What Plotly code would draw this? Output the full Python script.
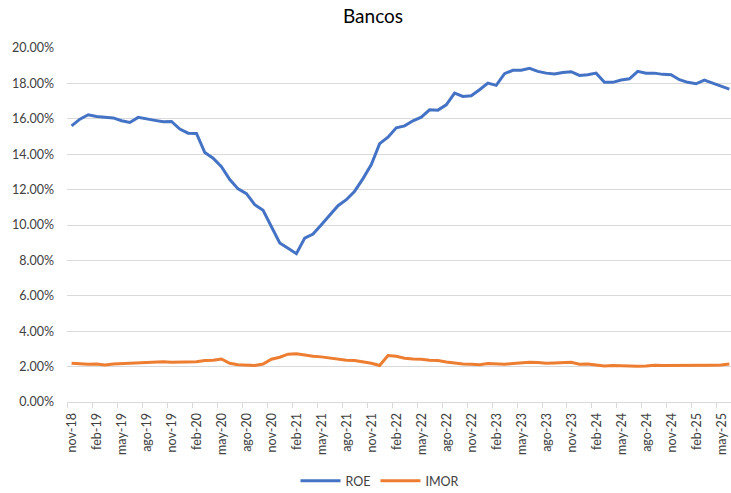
import plotly.graph_objects as go

month_names = ["ene", "feb", "mar", "abr", "may", "jun", "jul", "ago", "sep", "oct", "nov", "dic"]
# Categories: nov-18 .. jun-25 (monthly)
categories = []
m, yr = 10, 18
for _ in range(80):
    categories.append(f"{month_names[m]}-{yr:02d}")
    m += 1
    if m == 12:
        m, yr = 0, yr + 1

roe = [15.60, 15.98, 16.23, 16.13, 16.09, 16.05, 15.89, 15.79, 16.08, 15.98,
       15.91, 15.83, 15.85, 15.42, 15.19, 15.17, 14.09, 13.77, 13.30, 12.57,
       12.04, 11.77, 11.15, 10.83, 9.92, 8.98, 8.68, 8.38, 9.26, 9.49,
       10.02, 10.58, 11.09, 11.43, 11.91, 12.62, 13.42, 14.60, 14.96, 15.49,
       15.60, 15.89, 16.09, 16.51, 16.49, 16.79, 17.45, 17.26, 17.30, 17.64,
       18.02, 17.89, 18.55, 18.74, 18.74, 18.85, 18.68, 18.58, 18.53, 18.62,
       18.66, 18.45, 18.49, 18.58, 18.06, 18.06, 18.19, 18.26, 18.68, 18.58,
       18.58, 18.51, 18.49, 18.21, 18.06, 17.98, 18.19, 18.02, 17.87, 17.68]

imor = [2.19, 2.15, 2.13, 2.15, 2.09, 2.15, 2.17, 2.19, 2.23, 2.22,
        2.25, 2.28, 2.25, 2.26, 2.28, 2.28, 2.34, 2.36, 2.43, 2.19,
        2.11, 2.08, 2.06, 2.15, 2.42, 2.53, 2.70, 2.72, 2.64, 2.58,
        2.55, 2.49, 2.40, 2.36, 2.34, 2.26, 2.19, 2.06, 2.62, 2.58,
        2.47, 2.43, 2.42, 2.36, 2.34, 2.26, 2.19, 2.15, 2.13, 2.11,
        2.17, 2.15, 2.13, 2.17, 2.23, 2.25, 2.23, 2.19, 2.21, 2.25,
        2.25, 2.13, 2.15, 2.09, 2.04, 2.06, 2.04, 2.00, 2.02, 2.04,
        2.08, 2.06, 2.06, 2.04, 2.04, 2.04, 2.04, 2.08, 2.09, 2.15]

y_ticks = [0, 2, 4, 6, 8, 10, 12, 14, 16, 18, 20]
y_tick_labels = [f"{v:.2f}%" for v in y_ticks]

idx = list(range(len(categories)))
tick_idx = idx[::3]
tick_pos = [i - 0.5 for i in tick_idx]
tick_text = [categories[i] for i in tick_idx]

FONT = "Lato"
GRID = "#d9d9d9"
TXT = "#404040"

fig = go.Figure()
fig.add_trace(go.Scatter(x=idx, y=roe, mode="lines", name="ROE",
                         line=dict(color="#4472C4", width=3)))
fig.add_trace(go.Scatter(x=idx, y=imor, mode="lines", name="IMOR",
                         line=dict(color="#ED7D31", width=3)))

fig.update_layout(
    width=731, height=493,
    margin=dict(l=67, r=0, t=48, b=91),
    paper_bgcolor="white", plot_bgcolor="white",
    font=dict(family=FONT, color=TXT, size=12),
    title=dict(text="Bancos", x=373 / 731, xanchor="center", xref="container",
               y=1 - 16 / 493, yanchor="middle", yref="container",
               font=dict(family=FONT, size=19, color="#000000")),
    showlegend=True,
    legend=dict(orientation="h", x=380 / 731, xanchor="center", xref="container",
                y=(493 - 481) / 493, yanchor="middle", yref="container",
                font=dict(family=FONT, size=12.5, color=TXT),
                itemwidth=40, traceorder="normal"),
)

fig.update_xaxes(
    range=[-0.55, 79.2],
    tickmode="array", tickvals=tick_pos, ticktext=tick_text,
    tickangle=-90, ticks="outside", ticklen=5, tickcolor=GRID, tickwidth=1,
    ticklabelshift=5,
    showgrid=False, showline=True, linecolor=GRID, linewidth=1,
    zeroline=False,
    tickfont=dict(family=FONT, size=12.5, color=TXT),
)
fig.update_yaxes(
    range=[0, 20],
    tickmode="array", tickvals=y_ticks, ticktext=y_tick_labels,
    showgrid=True, gridcolor=GRID, gridwidth=1,
    zeroline=False, showline=False, ticks="",
    ticklabelstandoff=12,
    tickfont=dict(family=FONT, size=12.5, color=TXT),
)

fig.write_html("out.html")
